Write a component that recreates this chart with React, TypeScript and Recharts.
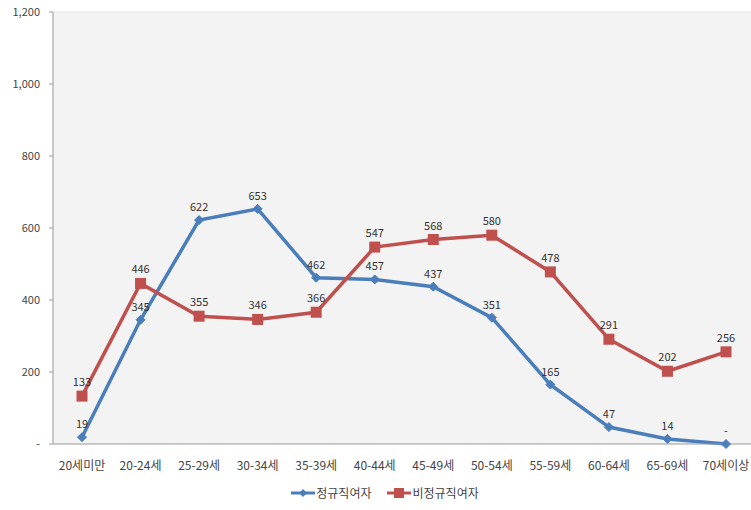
import React from 'react';
import { LineChart, Line, XAxis, YAxis, CartesianGrid, LabelList, Legend, ReferenceLine } from 'recharts';

const ageGroups = ['20세미만', '20-24세', '25-29세', '30-34세', '35-39세', '40-44세', '45-49세', '50-54세', '55-59세', '60-64세', '65-69세', '70세이상'];
const regularWomen = [19, 345, 622, 653, 462, 457, 437, 351, 165, 47, 14, 0];
const nonRegularWomen = [133, 446, 355, 346, 366, 547, 568, 580, 478, 291, 202, 256];
const yTicks = [0, 200, 400, 600, 800, 1000, 1200];
const bandTicks = [0, 1, 2, 3, 4, 5, 6, 7, 8, 9, 10, 11, 12];

const BLUE = '#4a7ebb';
const RED = '#c0504d';
const FONT = '"Noto Sans CJK KR", "Noto Sans", sans-serif';

const data = ageGroups.map((age, i) => ({
  age,
  regular: regularWomen[i],
  nonRegular: nonRegularWomen[i],
}));

const fmt = (v: number) => (v === 0 ? '-' : v.toLocaleString('en-US'));

const Diamond = (props: any) => {
  const { cx, cy } = props;
  if (cx == null || cy == null) return null;
  const r = 4.5;
  return <path d={`M${cx},${cy - r} L${cx + r},${cy} L${cx},${cy + r} L${cx - r},${cy} Z`} fill={BLUE} stroke={BLUE} />;
};

const Square = (props: any) => {
  const { cx, cy } = props;
  if (cx == null || cy == null) return null;
  return <rect x={cx - 5.5} y={cy - 5.5} width={11} height={11} fill={RED} />;
};

const LegendContent = () => (
  <div style={{ display: 'flex', justifyContent: 'center', alignItems: 'center', fontFamily: FONT, fontSize: 12, color: '#444' }}>
    <svg width={24} height={10} style={{ marginRight: 1 }}>
      <line x1={0} y1={5} x2={24} y2={5} stroke={BLUE} strokeWidth={3} />
      <path d="M12,1 L16,5 L12,9 L8,5 Z" fill={BLUE} />
    </svg>
    <span style={{ marginRight: 16 }}>정규직여자</span>
    <svg width={24} height={10} style={{ marginRight: 1 }}>
      <line x1={0} y1={5} x2={24} y2={5} stroke={RED} strokeWidth={3} />
      <rect x={7} y={0} width={10} height={10} fill={RED} />
    </svg>
    <span>비정규직여자</span>
  </div>
);

export default function App() {
  return (
    <div style={{ position: 'absolute', left: 0, top: 0, width: 751, height: 510, overflow: 'hidden', background: '#fff' }}>
      <LineChart width={760} height={510} data={data} margin={{ top: 12, right: 5, bottom: 14, left: 0 }}>
        <CartesianGrid horizontal={false} vertical={false} fill="#f3f3f3" />
        <ReferenceLine y={1200} stroke="#e6e6e6" />
        <XAxis
          xAxisId="band"
          type="number"
          domain={[0, 12]}
          ticks={bandTicks}
          height={0}
          tick={false}
          axisLine={false}
          tickLine={{ stroke: '#999' }}
          tickSize={4}
        />
        <XAxis
          dataKey="age"
          height={35}
          padding={{ left: 29, right: 29 }}
          axisLine={{ stroke: '#999' }}
          tickLine={false}
          tickMargin={11}
          interval={0}
          tick={{ fontSize: 12, fill: '#444', fontFamily: FONT }}
        />
        <YAxis
          width={53}
          domain={[0, 1200]}
          ticks={yTicks}
          tickFormatter={fmt}
          axisLine={{ stroke: '#999' }}
          tickLine={{ stroke: '#999' }}
          tickSize={4}
          tickMargin={9}
          tick={{ fontSize: 11, fill: '#444', fontFamily: FONT }}
        />
        <Line
          type="linear"
          dataKey="regular"
          stroke={BLUE}
          strokeWidth={3.5}
          dot={<Diamond />}
          activeDot={false}
          isAnimationActive={false}
        >
          <LabelList dataKey="regular" position="top" offset={9} formatter={fmt} style={{ fontSize: 11, fill: '#333', fontFamily: FONT }} />
        </Line>
        <Line
          type="linear"
          dataKey="nonRegular"
          stroke={RED}
          strokeWidth={3.5}
          dot={<Square />}
          activeDot={false}
          isAnimationActive={false}
        >
          <LabelList dataKey="nonRegular" position="top" offset={10} formatter={fmt} style={{ fontSize: 11, fill: '#333', fontFamily: FONT }} />
        </Line>
        <Legend content={<LegendContent />} wrapperStyle={{ position: 'absolute', top: 484, left: 0, width: 770 }} />
      </LineChart>
    </div>
  );
}
